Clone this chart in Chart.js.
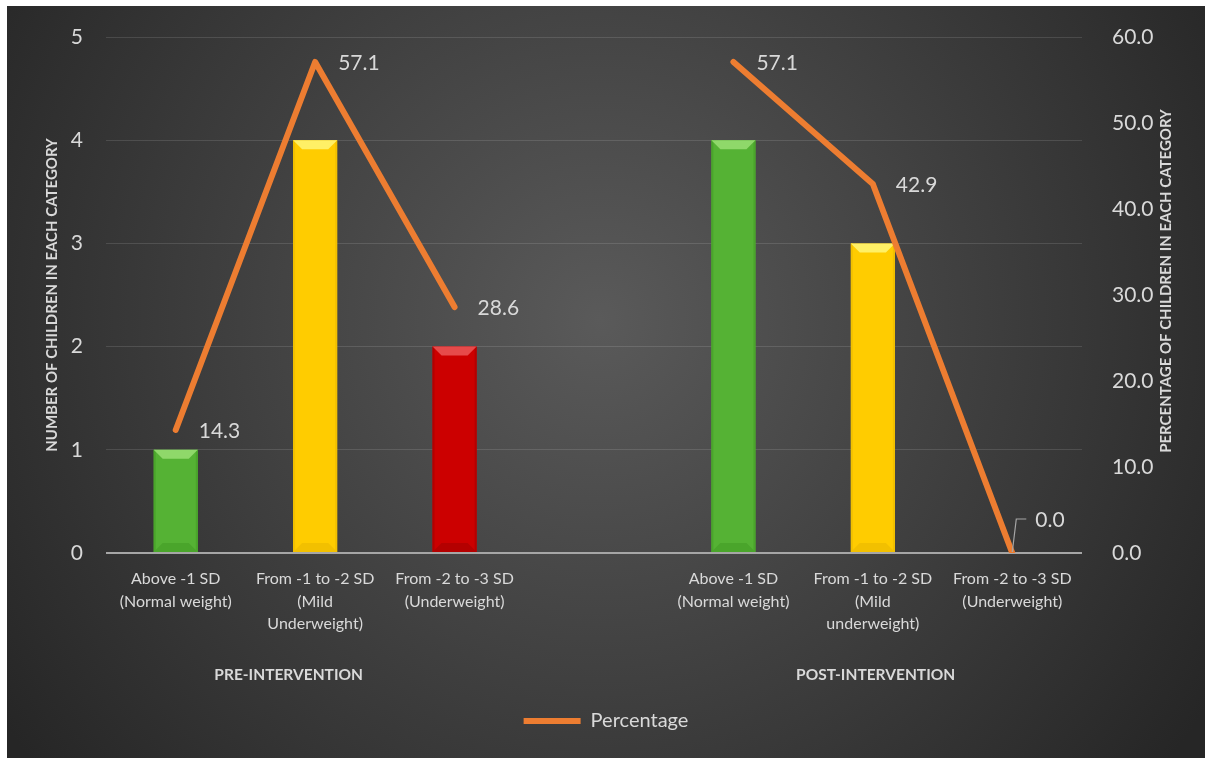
<!DOCTYPE html>
<html lang="en">
<head>
<meta charset="UTF-8">
<title>Weight categories before and after intervention</title>
<script src="https://cdn.jsdelivr.net/npm/chart.js"></script>
<style>
    html, body { margin: 0; padding: 0; background: #fff; }
    canvas { display: block; }
</style>
</head>
<body>
<canvas id="weightChart" width="1205" height="758"></canvas>
<script>
// categories: 3 pre-intervention, an empty spacer slot, 3 post-intervention
const categories = [
    ['Above -1 SD', '(Normal weight)'],
    ['From -1 to -2 SD', '(Mild', 'Underweight)'],
    ['From -2 to -3 SD', '(Underweight)'],
    '',
    ['Above -1 SD', '(Normal weight)'],
    ['From -1 to -2 SD', '(Mild', 'underweight)'],
    ['From -2 to -3 SD', '(Underweight)']
];
const childCounts = [1, 4, 2, null, 4, 3, 0];
const percentages = [14.3, 57.1, 28.6, null, 57.1, 42.9, 0.0];
const groupNames = ['PRE-INTERVENTION', 'POST-INTERVENTION'];
const countMax = 5;
const percentMax = 60;

const barColors = ['#55b234', '#ffcc00', '#cc0000', null, '#55b234', '#ffcc00', '#cc0000'];
const bevelLight = { '#55b234': '#8fd86a', '#ffcc00': '#fff066', '#cc0000': '#e64a4a' };
const bevelDark = { '#55b234': '#4aa52b', '#ffcc00': '#f2c000', '#cc0000': '#b40000' };
const textColor = '#d9d9d9';
const orange = '#ed7d31';

Chart.defaults.font.family = 'Lato, "Liberation Sans", sans-serif';
Chart.defaults.color = textColor;

// dark radial panel behind everything
const backdrop = {
    id: 'backdrop',
    beforeDraw(chart) {
        const { ctx, width, height } = chart;
        ctx.save();
        ctx.fillStyle = '#ffffff';
        ctx.fillRect(0, 0, width, height);
        const g = ctx.createRadialGradient(600, 320, 0, 600, 320, 720);
        g.addColorStop(0, '#5a5a5a');
        g.addColorStop(1, '#262626');
        ctx.fillStyle = g;
        ctx.fillRect(7, 6, width - 7, height - 6);
        ctx.restore();
    }
};

// bevelled look on the bars (drawn before the line)
const bevel = {
    id: 'bevel',
    afterDatasetDraw(chart, args) {
        if (args.index !== 0) return;
        const ctx = chart.ctx;
        args.meta.data.forEach((bar, i) => {
            const col = barColors[i];
            if (!col || !childCounts[i]) return;
            const { x, y, base, width } = bar.getProps(['x', 'y', 'base', 'width'], true);
            const l = x - width / 2, r = x + width / 2, b = 9;
            ctx.save();
            ctx.fillStyle = bevelDark[col];
            ctx.beginPath();
            ctx.moveTo(l, base); ctx.lineTo(r, base); ctx.lineTo(r - b, base - b); ctx.lineTo(l + b, base - b);
            ctx.closePath(); ctx.fill();
            ctx.fillRect(l, y, 2, base - y);
            ctx.fillRect(r - 2, y, 2, base - y);
            ctx.fillStyle = bevelLight[col];
            ctx.beginPath();
            ctx.moveTo(l, y); ctx.lineTo(r, y); ctx.lineTo(r - b, y + b); ctx.lineTo(l + b, y + b);
            ctx.closePath(); ctx.fill();
            ctx.restore();
        });
    }
};

// value labels on the percentage line
const valueLabels = {
    id: 'valueLabels',
    afterDatasetsDraw(chart) {
        const ctx = chart.ctx;
        const meta = chart.getDatasetMeta(1);
        ctx.save();
        ctx.font = '21px Lato, "Liberation Sans", sans-serif';
        ctx.fillStyle = textColor;
        ctx.textAlign = 'left';
        ctx.textBaseline = 'middle';
        meta.data.forEach((pt, i) => {
            const v = percentages[i];
            if (v === null) return;
            if (v === 0) {
                ctx.strokeStyle = '#a6a6a6';
                ctx.lineWidth = 1.2;
                ctx.beginPath();
                ctx.moveTo(pt.x, pt.y - 1);
                ctx.lineTo(pt.x + 4, pt.y - 34);
                ctx.lineTo(pt.x + 14, pt.y - 34);
                ctx.stroke();
                ctx.fillText(v.toFixed(1), pt.x + 23, pt.y - 33);
            } else {
                ctx.fillText(v.toFixed(1), pt.x + 23, pt.y + 1);
            }
        });
        ctx.restore();
    }
};

// group captions under the category labels + right axis title (reads bottom-up)
const extraText = {
    id: 'extraText',
    afterDraw(chart) {
        const ctx = chart.ctx;
        const xs = chart.scales.x;
        const area = chart.chartArea;
        ctx.save();
        ctx.fillStyle = textColor;
        ctx.font = 'bold 15.5px Lato, "Liberation Sans", sans-serif';
        ctx.textAlign = 'center';
        ctx.textBaseline = 'middle';
        ctx.fillText(groupNames[0], xs.getPixelForValue(0.81), 675);
        ctx.fillText(groupNames[1], xs.getPixelForValue(5.02), 675);
        ctx.font = 'bold 15px Lato, "Liberation Sans", sans-serif';
        ctx.translate(chart.scales.y1.right - 39, (area.top + area.bottom) / 2 - 14);
        ctx.rotate(-Math.PI / 2);
        ctx.fillText('PERCENTAGE OF CHILDREN IN EACH CATEGORY', 0, 0);
        ctx.restore();
    }
};

new Chart(document.getElementById('weightChart'), {
    data: {
        labels: categories,
        datasets: [
            {
                type: 'bar',
                label: 'Number of children',
                data: childCounts,
                backgroundColor: barColors,
                yAxisID: 'y',
                barPercentage: 0.316,
                categoryPercentage: 1,
                order: 2
            },
            {
                type: 'line',
                label: 'Percentage',
                data: percentages,
                borderColor: orange,
                backgroundColor: orange,
                borderWidth: 6,
                borderCapStyle: 'round',
                borderJoinStyle: 'round',
                pointRadius: 0,
                spanGaps: false,
                yAxisID: 'y1',
                order: 1
            }
        ]
    },
    options: {
        responsive: false,
        animation: false,
        layout: { padding: { top: 37, left: 7, right: 0, bottom: 17 } },
        plugins: {
            tooltip: { enabled: false },
            legend: {
                position: 'bottom',
                labels: {
                    filter: item => item.datasetIndex === 1,
                    usePointStyle: true,
                    pointStyle: 'line',
                    pointStyleWidth: 57,
                    color: textColor,
                    font: { size: 20 },
                    padding: 10
                }
            }
        },
        scales: {
            x: {
                grid: { display: false },
                border: { display: false },
                ticks: {
                    autoSkip: false,
                    maxRotation: 0,
                    padding: 7,
                    color: textColor,
                    font: { size: 16, lineHeight: 1.4 }
                },
                afterFit(scale) { scale.height = 148; }
            },
            y: {
                position: 'left',
                min: 0,
                max: countMax,
                ticks: { stepSize: 1, padding: 2, color: textColor, font: { size: 21 } },
                grid: {
                    drawTicks: true,
                    tickLength: 21,
                    tickColor: 'transparent',
                    color: c => c.tick.value === 0 ? '#a6a6a6' : 'rgba(255,255,255,0.12)',
                    lineWidth: c => c.tick.value === 0 ? 2 : 1
                },
                border: { display: false },
                title: {
                    display: true,
                    text: 'NUMBER OF CHILDREN IN EACH CATEGORY',
                    color: textColor,
                    font: { size: 15, weight: 'bold' },
                    padding: { top: 36, bottom: 0 }
                },
                afterFit(scale) { scale.width = 99; }
            },
            y1: {
                position: 'right',
                min: 0,
                max: percentMax,
                ticks: {
                    stepSize: 10,
                    padding: 2,
                    color: textColor,
                    font: { size: 21 },
                    callback: v => v.toFixed(1)
                },
                grid: { drawOnChartArea: false, drawTicks: true, tickLength: 28, tickColor: 'transparent' },
                border: { display: false },
                afterFit(scale) { scale.width = 123; }
            }
        }
    },
    plugins: [backdrop, bevel, valueLabels, extraText]
});
</script>
</body>
</html>
